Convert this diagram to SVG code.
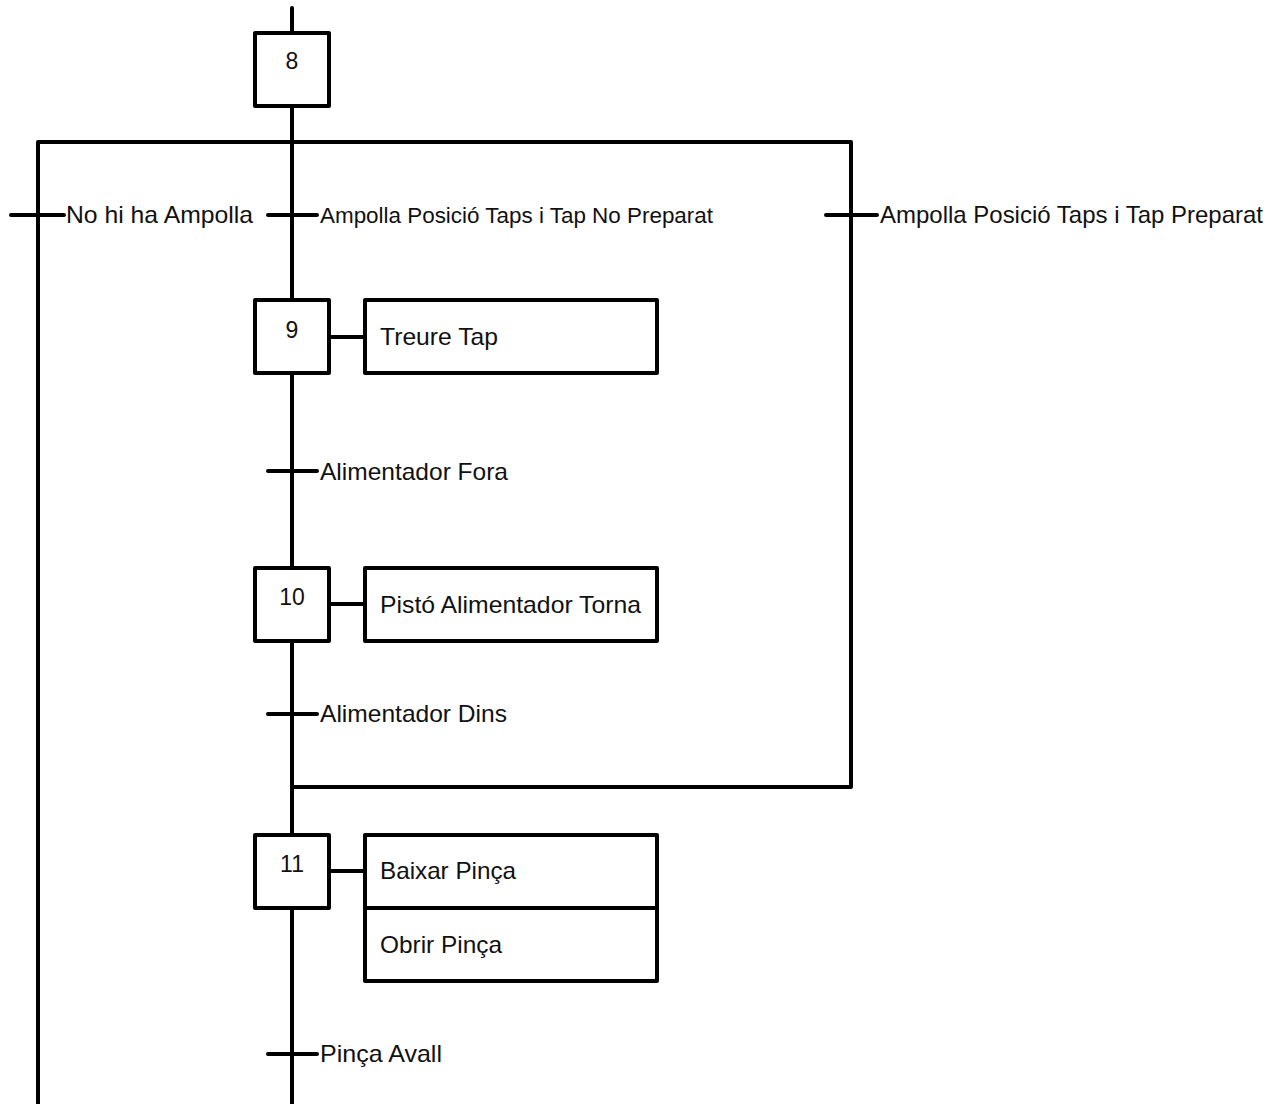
<svg xmlns="http://www.w3.org/2000/svg" width="1284" height="1104" viewBox="0 0 1284 1104">
<style>
.ln{stroke:#000;stroke-width:4;fill:none;stroke-linecap:round;stroke-linejoin:round}
.bx{stroke:#000;stroke-width:4;fill:#fff;stroke-linejoin:round}
.t{font-family:"Liberation Sans",Arial,sans-serif;font-size:24px;fill:#111}
.ts{font-family:"Liberation Sans",Arial,sans-serif;font-size:22px;fill:#111}
.n{font-family:"Liberation Sans",Arial,sans-serif;font-size:23px;fill:#111;text-anchor:middle}
</style>
<rect width="1284" height="1104" fill="#fff"/>
<g id="connectors">
<line class="ln" x1="292" y1="8" x2="292" y2="1104"/>
<polyline class="ln" points="38,1104 38,142 851,142 851,787 292,787"/>
<line class="ln" x1="329" y1="337" x2="365" y2="337"/>
<line class="ln" x1="329" y1="604" x2="365" y2="604"/>
<line class="ln" x1="329" y1="871" x2="365" y2="871"/>
</g>
<g id="t_no_ampolla"><line class="ln" x1="11" y1="215" x2="64" y2="215"/><text class="t" x="66" y="223" textLength="187" lengthAdjust="spacingAndGlyphs">No hi ha Ampolla</text></g>
<g id="t_no_preparat"><line class="ln" x1="268" y1="215" x2="317" y2="215"/><text class="ts" x="320" y="223" textLength="393" lengthAdjust="spacingAndGlyphs">Ampolla Posició Taps i Tap No Preparat</text></g>
<g id="t_preparat"><line class="ln" x1="826" y1="215" x2="877" y2="215"/><text class="t" x="880" y="223" textLength="383" lengthAdjust="spacingAndGlyphs">Ampolla Posició Taps i Tap Preparat</text></g>
<g id="step8"><rect class="bx" x="255" y="33" width="74" height="73"/><text class="n" x="292" y="69">8</text></g>
<g id="step9"><rect class="bx" x="255" y="300" width="74" height="73"/><text class="n" x="292" y="338">9</text></g>
<g id="action9"><rect class="bx" x="365" y="300" width="292" height="73"/><text class="t" x="380" y="345" textLength="118" lengthAdjust="spacingAndGlyphs">Treure Tap</text></g>
<g id="t_fora"><line class="ln" x1="268" y1="471" x2="317" y2="471"/><text class="t" x="320" y="480" textLength="188" lengthAdjust="spacingAndGlyphs">Alimentador Fora</text></g>
<g id="step10"><rect class="bx" x="255" y="568" width="74" height="73"/><text class="n" x="292" y="605">10</text></g>
<g id="action10"><rect class="bx" x="365" y="568" width="292" height="73"/><text class="t" x="380" y="613" textLength="261" lengthAdjust="spacingAndGlyphs">Pistó Alimentador Torna</text></g>
<g id="t_dins"><line class="ln" x1="268" y1="714" x2="317" y2="714"/><text class="t" x="320" y="722" textLength="187" lengthAdjust="spacingAndGlyphs">Alimentador Dins</text></g>
<g id="step11"><rect class="bx" x="255" y="835" width="74" height="73"/><text class="n" x="292" y="872">11</text></g>
<g id="action11"><rect class="bx" x="365" y="835" width="292" height="146"/><line class="ln" x1="365" y1="908" x2="657" y2="908"/><text class="t" x="380" y="879" textLength="136" lengthAdjust="spacingAndGlyphs">Baixar Pinça</text><text class="t" x="380" y="953" textLength="122" lengthAdjust="spacingAndGlyphs">Obrir Pinça</text></g>
<g id="t_avall"><line class="ln" x1="268" y1="1054" x2="317" y2="1054"/><text class="t" x="320" y="1062" textLength="122" lengthAdjust="spacingAndGlyphs">Pinça Avall</text></g>
</svg>
